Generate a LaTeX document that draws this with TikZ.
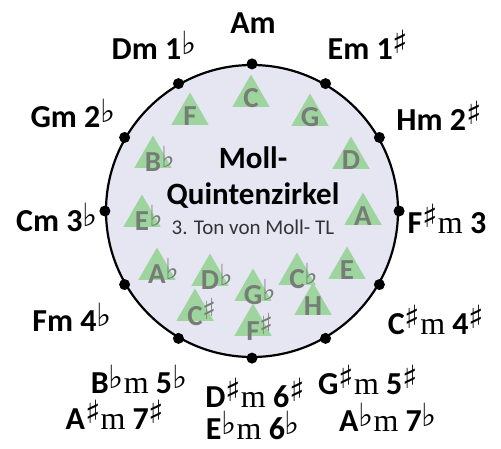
\documentclass[tikz,border=0pt]{standalone}
\usepackage{fontspec}
\setmainfont{Carlito}
\newfontfamily\serm{Liberation Serif}
\newfontfamily\symb{DejaVu Sans}
\usepackage{tikz}
\usetikzlibrary{shapes.geometric,positioning}
\usepackage{xcolor}
\definecolor{kreisfill}{RGB}{230,230,243}
\definecolor{tongruen}{RGB}{158,212,158}
\definecolor{tongrau}{RGB}{118,124,118}
\newcommand{\kr}{\raisebox{.2em}{\scalebox{1.0}{\symb\mdseries ♯}}}
\newcommand{\be}{\raisebox{.16em}{\scalebox{1.0}{\symb\mdseries ♭}}}
\newcommand{\mm}{{\serm\mdseries m}}

\begin{document}
\begin{tikzpicture}[x=1pt, y=-1pt,
    zirkel/.style={circle, draw=black, line width=2.2pt, fill=kreisfill,
                   minimum size=292pt, inner sep=0pt},
    ton/.style={regular polygon, regular polygon sides=3, fill=tongruen,
                minimum size=43pt, inner sep=0pt,
                label={[text=tongrau, font=\fontsize{29}{29}\selectfont\bfseries, yshift=-2pt]center:#1}},
    tonart/.style={font=\fontsize{32}{34}\selectfont\bfseries, inner sep=0pt}
]
    \useasboundingbox (0,0) rectangle (501,448);
    \node[zirkel] (kreis) at (252,211) {};
    \foreach \w in {0,30,...,330}
        \fill (kreis.\w) circle (5.5pt);

    \node[ton={C}] (tc) at (251,96) {};
    \node[ton={F}] (tf) at (190,114) {};
    \node[ton={G}] (tg) at (310,115) {};
    \node[ton={B\rlap{\be}}] (tb) at (153,157) {};
    \node[ton={D}] (td) at (351,158) {};
    \node[ton={E\rlap{\be}}] (tes) at (142,216) {};
    \node[ton={A}] (ta) at (363,214) {};
    \node[ton={A\rlap{\be}}] (tas) at (157,269) {};
    \node[ton={D\rlap{\be}}] (tdes) at (210,275) {};
    \node[ton={C\rlap{\kr}}] (tcis) at (195,310) {};
    \node[ton={G\rlap{\be}}] (tges) at (253,290) {};
    \node[ton={F\rlap{\kr}}] (tfis) at (253,325) {};
    \node[ton={C\rlap{\be}}] (tces) at (297,274) {};
    \node[ton={E}] (te) at (347,268) {};
    \node[ton={H}] (th) at (313,304) {};

    \node[font=\fontsize{31}{33}\selectfont\bfseries, inner sep=0pt] (moll) at (253,158) {Moll-};
    \node[font=\fontsize{31}{33}\selectfont\bfseries, inner sep=0pt] (quint) at (253,196) {Quintenzirkel};
    \node[font=\fontsize{21}{23}\selectfont, text=black!80, inner sep=0pt] (untertitel) at (253,227) {3. Ton von Moll- TL};

    \node[tonart] (am) at (253,23) {Am};
    \node[tonart] (dm) at (154,45) {Dm 1\be};
    \node[tonart] (em) at (368,45) {Em 1\kr};
    \node[tonart] (gm) at (73,113) {Gm 2\be};
    \node[tonart] (hm) at (439,116) {Hm 2\kr};
    \node[tonart] (cm) at (57,217) {Cm 3\be};
    \node[tonart] (fism) at (447,219) {F\kr\mm{} 3};
    \node[tonart] (fm) at (72,317) {Fm 4\be};
    \node[tonart] (cism) at (436,320) {C\kr\mm{} 4\kr};
    \node[tonart] (bm) at (139,379) {B\be\mm{} 5\be};
    \node[tonart] (aism) at (115,415) {A\kr\mm{} 7\kr};
    \node[tonart] (dism) at (255,393) {D\kr\mm{} 6\kr};
    \node[tonart] (esm) at (253,425) {E\be\mm{} 6\be};
    \node[tonart] (gism) at (368,380) {G\kr\mm{} 5\kr};
    \node[tonart] (asm) at (388,417) {A\be\mm{} 7\be};
\end{tikzpicture}
\end{document}
